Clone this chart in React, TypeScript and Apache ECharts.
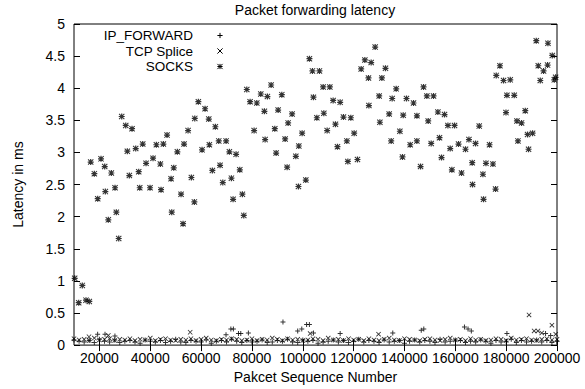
import React, { useEffect, useRef } from "react";
import * as echarts from "echarts";

const FONT = '"Liberation Sans", Arial, Helvetica, sans-serif';

const X_TICKS = [20000, 40000, 60000, 80000, 100000, 120000, 140000, 160000, 180000, 200000];

// regular sampling of the low-latency series (sequence numbers)
const BULK_START = 10000;
const BULK_STEP = 2000;

const IP_FORWARD_BULK = [
  0.08, 0.06, 0.05, 0.07, 0.04, 0.09, 0.06, 0.05, 0.08, 0.04,
  0.06, 0.07, 0.05, 0.03, 0.08, 0.06, 0.05, 0.07, 0.04, 0.06,
  0.09, 0.05, 0.04, 0.07, 0.06, 0.05, 0.08, 0.03, 0.06, 0.07,
  0.05, 0.09, 0.06, 0.04, 0.07, 0.05, 0.06, 0.08, 0.04, 0.05,
  0.07, 0.06, 0.09, 0.05, 0.04, 0.08, 0.06, 0.07, 0.03, 0.05,
  0.06, 0.08, 0.05, 0.07, 0.04, 0.06, 0.09, 0.05, 0.07, 0.06,
  0.04, 0.08, 0.05, 0.06, 0.07, 0.03, 0.06, 0.08, 0.05, 0.07,
  0.06, 0.04, 0.09, 0.05, 0.06, 0.08, 0.07, 0.04, 0.06, 0.05,
  0.08, 0.06, 0.03, 0.07, 0.05, 0.06, 0.09, 0.04, 0.07, 0.05,
  0.06, 0.08, 0.05, 0.07, 0.04, 0.06,
];

const IP_FORWARD_PEAKS = [
  [19300, 0.17], [22200, 0.17], [26100, 0.14], [69800, 0.16], [71700, 0.25],
  [72700, 0.25], [74700, 0.18], [75600, 0.18], [78600, 0.19], [92200, 0.36],
  [98000, 0.22], [99600, 0.25], [101500, 0.32], [102600, 0.32], [104200, 0.19],
  [114700, 0.18], [135400, 0.19], [146600, 0.23], [147600, 0.25], [163600, 0.28],
  [165000, 0.25], [166300, 0.22], [180300, 0.18], [195500, 0.18], [197500, 0.15],
];

const TCP_SPLICE_BULK = [
  0.10, 0.08, 0.09, 0.07, 0.11, 0.08, 0.09, 0.10, 0.07, 0.09,
  0.08, 0.10, 0.07, 0.09, 0.08, 0.11, 0.07, 0.09, 0.10, 0.08,
  0.07, 0.09, 0.08, 0.10, 0.07, 0.09, 0.11, 0.08, 0.07, 0.09,
  0.08, 0.10, 0.09, 0.07, 0.08, 0.10, 0.07, 0.09, 0.08, 0.11,
  0.09, 0.07, 0.10, 0.08, 0.09, 0.07, 0.08, 0.10, 0.09, 0.07,
  0.11, 0.08, 0.09, 0.07, 0.10, 0.08, 0.09, 0.07, 0.10, 0.08,
  0.07, 0.09, 0.11, 0.08, 0.07, 0.10, 0.09, 0.08, 0.07, 0.09,
  0.10, 0.08, 0.07, 0.09, 0.11, 0.08, 0.09, 0.07, 0.10, 0.08,
  0.09, 0.07, 0.08, 0.10, 0.09, 0.07, 0.11, 0.08, 0.09, 0.10,
  0.08, 0.07, 0.09, 0.10, 0.08, 0.09,
];

const TCP_SPLICE_PEAKS = [
  [15900, 0.13], [23500, 0.15], [55700, 0.20], [102900, 0.18], [129800, 0.17],
  [189000, 0.47], [191000, 0.22], [192500, 0.22], [194000, 0.19], [198000, 0.31],
  [199500, 0.17],
];

const SOCKS = [
  [10270, 1.04], [11850, 0.66], [13270, 0.93], [14720, 0.70], [16020, 0.68],
  [16570, 2.85], [18000, 2.67], [19330, 2.28], [20630, 2.90], [22080, 2.78],
  [22330, 2.39], [23500, 1.95], [24690, 2.68], [26140, 2.45], [26650, 2.07],
  [27590, 1.66], [28770, 3.56], [30350, 3.42], [30980, 3.02], [31770, 2.64],
  [32830, 3.37], [34280, 3.06], [35460, 2.70], [35860, 2.45], [37040, 3.13],
  [38340, 2.83], [39910, 2.45], [41090, 2.91], [42400, 3.12], [43970, 2.82],
  [44240, 2.42], [45150, 3.13], [46600, 3.27], [48180, 2.59], [48450, 2.07],
  [49240, 2.76], [50660, 3.01], [52110, 2.35], [52900, 1.89], [53290, 3.13],
  [54870, 3.34], [56170, 2.61], [57350, 2.23], [57510, 3.53], [58920, 3.79],
  [60380, 3.04], [61560, 3.68], [63020, 3.52], [63250, 3.12], [64430, 2.72],
  [65610, 3.40], [66950, 3.18], [67460, 2.80], [68530, 2.53], [69830, 3.18],
  [71130, 3.01], [71920, 2.60], [72580, 2.27], [73760, 2.97], [75220, 2.73],
  [76240, 2.35], [76790, 2.02], [77970, 3.98], [79270, 3.79], [80850, 3.34],
  [81910, 3.77], [83480, 3.91], [84900, 3.64], [85180, 3.20], [86080, 3.87],
  [87540, 4.05], [88990, 3.37], [89510, 2.99], [90300, 3.66], [91750, 3.90],
  [93050, 3.21], [93840, 2.77], [94230, 3.46], [95800, 3.60], [97260, 2.94],
  [98290, 2.47], [98440, 3.10], [99740, 3.30], [101190, 2.57], [102620, 4.46],
  [103800, 4.27], [104190, 3.86], [105530, 3.54], [106560, 4.27], [108010, 4.02],
  [108280, 3.61], [109580, 3.34], [110640, 4.02], [111940, 3.81], [112850, 3.44],
  [113640, 3.09], [114700, 3.78], [116000, 3.55], [117330, 3.18], [117730, 2.86],
  [118900, 3.54], [120210, 3.30], [121510, 2.89], [122960, 4.30], [124420, 4.44],
  [125840, 4.16], [126000, 3.73], [126900, 4.40], [128470, 4.64], [130050, 3.88],
  [130330, 3.47], [131110, 4.16], [132530, 4.31], [133980, 3.60], [134770, 3.18],
  [135160, 3.84], [136740, 3.99], [138190, 3.33], [139220, 2.93], [139500, 3.58],
  [140790, 3.84], [142250, 3.12], [143560, 3.77], [144880, 3.18], [144900, 3.57],
  [146320, 2.78], [147500, 4.02], [148810, 3.88], [149330, 3.49], [150510, 3.14],
  [151430, 3.88], [153150, 3.63], [153780, 3.23], [154570, 2.92], [155750, 3.59],
  [157090, 3.42], [157990, 3.06], [158650, 2.73], [159690, 3.42], [161260, 3.13],
  [162440, 2.68], [164010, 3.05], [165360, 3.20], [166650, 2.84], [166770, 2.50],
  [167960, 3.14], [169410, 3.41], [170860, 2.66], [171100, 2.27], [172050, 2.83],
  [173460, 3.12], [174800, 2.82], [175830, 2.43], [176100, 4.20], [177550, 4.35],
  [178970, 4.12], [179930, 3.62], [180300, 3.89], [181610, 4.13], [183180, 3.89],
  [184240, 3.49], [184640, 3.18], [186060, 3.46], [187520, 3.65], [188420, 3.28],
  [188810, 3.05], [190390, 3.30], [191840, 4.74], [192630, 4.35], [193420, 4.12],
  [194720, 4.27], [196290, 4.36], [196440, 4.70], [198140, 4.51], [198930, 4.13],
  [199440, 4.17],
];

const SERIES_NAMES = ["IP_FORWARD", "TCP Splice", "SOCKS"];

const PLUS = "path://M2,0H3V5H2ZM0,2H5V3H0Z";
const CROSS = "path://M0,0.6L0.6,0L5,4.4L4.4,5ZM4.4,0L5,0.6L0.6,5L0,4.4Z";
const STAR =
  "path://M2,0H3V5H2ZM0,2H5V3H0ZM0,0.6L0.6,0L5,4.4L4.4,5ZM4.4,0L5,0.6L0.6,5L0,4.4Z";

function bulk(values: number[]) {
  return values.map((v, i) => [BULK_START + i * BULK_STEP, v]);
}

function legendMarker(kind: string, cx: number, cy: number) {
  const r = 2.6;
  const st = { stroke: "#000", lineWidth: 1 };
  const plus = [
    { type: "line", shape: { x1: cx - r, y1: cy, x2: cx + r, y2: cy }, style: st },
    { type: "line", shape: { x1: cx, y1: cy - r, x2: cx, y2: cy + r }, style: st },
  ];
  const cross = [
    { type: "line", shape: { x1: cx - r, y1: cy - r, x2: cx + r, y2: cy + r }, style: st },
    { type: "line", shape: { x1: cx - r, y1: cy + r, x2: cx + r, y2: cy - r }, style: st },
  ];
  const children = kind === "plus" ? plus : kind === "cross" ? cross : [...plus, ...cross];
  return { type: "group", silent: true, children };
}

export default function App() {
  const ref = useRef<HTMLDivElement>(null);

  useEffect(() => {
    if (!ref.current) return;
    const chart = echarts.init(ref.current, null, { renderer: "svg" });

    const axisText = { color: "#000", fontSize: 14, fontFamily: FONT };
    const tickStyle = { color: "#000", width: 1 };

    const legendX = 193;
    const legendYs = [35.5, 51, 66.5];
    const legendKinds = ["plus", "cross", "star"];

    const graphic: any[] = [];
    SERIES_NAMES.forEach((name, i) => {
      graphic.push({
        type: "text",
        x: legendX,
        y: legendYs[i],
        silent: true,
        style: {
          text: name,
          fill: "#000",
          fontSize: 13.5,
          fontFamily: FONT,
          lineHeight: 13,
          textAlign: "right",
          textVerticalAlign: "middle",
        },
      });
      graphic.push(legendMarker(legendKinds[i], 220, legendYs[i]));
    });

    const option: any = {
      animation: false,
      backgroundColor: "#fff",
      title: {
        text: "Packet forwarding latency",
        left: 315,
        top: 3,
        padding: 0,
        textAlign: "center",
        textStyle: { color: "#000", fontSize: 14, fontWeight: "normal", fontFamily: FONT },
      },
      grid: {
        left: 74,
        right: 28,
        top: 24,
        bottom: 38,
        show: true,
        borderColor: "#000",
        borderWidth: 1,
        backgroundColor: "transparent",
        containLabel: false,
      },
      xAxis: [
        {
          type: "value",
          position: "bottom",
          min: 10000,
          max: 200000,
          name: "Pakcet Sequence Number",
          nameLocation: "middle",
          nameGap: 23,
          nameTextStyle: { color: "#000", fontSize: 14, fontFamily: FONT },
          axisLine: { show: false },
          axisTick: { show: true, inside: true, length: 6, customValues: X_TICKS, lineStyle: tickStyle },
          axisLabel: { ...axisText, margin: 6, customValues: X_TICKS, formatter: (v: number) => String(v) },
          splitLine: { show: false },
        },
        {
          type: "value",
          position: "top",
          min: 10000,
          max: 200000,
          axisLine: { show: false },
          axisTick: { show: true, inside: true, length: 6, customValues: X_TICKS, lineStyle: tickStyle },
          axisLabel: { show: false },
          splitLine: { show: false },
        },
      ],
      yAxis: [
        {
          type: "value",
          position: "left",
          min: 0,
          max: 5,
          interval: 0.5,
          name: "Latency in ms",
          nameLocation: "middle",
          nameGap: 49,
          nameRotate: 90,
          nameTextStyle: { color: "#000", fontSize: 14, fontFamily: FONT },
          axisLine: { show: false },
          axisTick: { show: true, inside: true, length: 6, lineStyle: tickStyle },
          axisLabel: { ...axisText, margin: 9, formatter: (v: number) => String(v) },
          splitLine: { show: false },
        },
        {
          type: "value",
          position: "right",
          min: 0,
          max: 5,
          interval: 0.5,
          axisLine: { show: false },
          axisTick: { show: true, inside: true, length: 6, lineStyle: tickStyle },
          axisLabel: { show: false },
          splitLine: { show: false },
        },
      ],
      series: [
        {
          name: SERIES_NAMES[0],
          type: "scatter",
          silent: true,
          symbol: PLUS,
          symbolSize: 5,
          itemStyle: { color: "#000" },
          data: [...bulk(IP_FORWARD_BULK), ...IP_FORWARD_PEAKS],
        },
        {
          name: SERIES_NAMES[1],
          type: "scatter",
          silent: true,
          symbol: CROSS,
          symbolSize: 5,
          itemStyle: { color: "#000" },
          data: [...bulk(TCP_SPLICE_BULK), ...TCP_SPLICE_PEAKS],
        },
        {
          name: SERIES_NAMES[2],
          type: "scatter",
          silent: true,
          symbol: STAR,
          symbolSize: 6,
          itemStyle: { color: "#000" },
          data: SOCKS,
        },
      ],
      graphic,
    };

    chart.setOption(option);
    return () => chart.dispose();
  }, []);

  return (
    <div
      ref={ref}
      style={{ position: "fixed", left: 0, top: 0, width: 585, height: 389, background: "#fff" }}
    />
  );
}
